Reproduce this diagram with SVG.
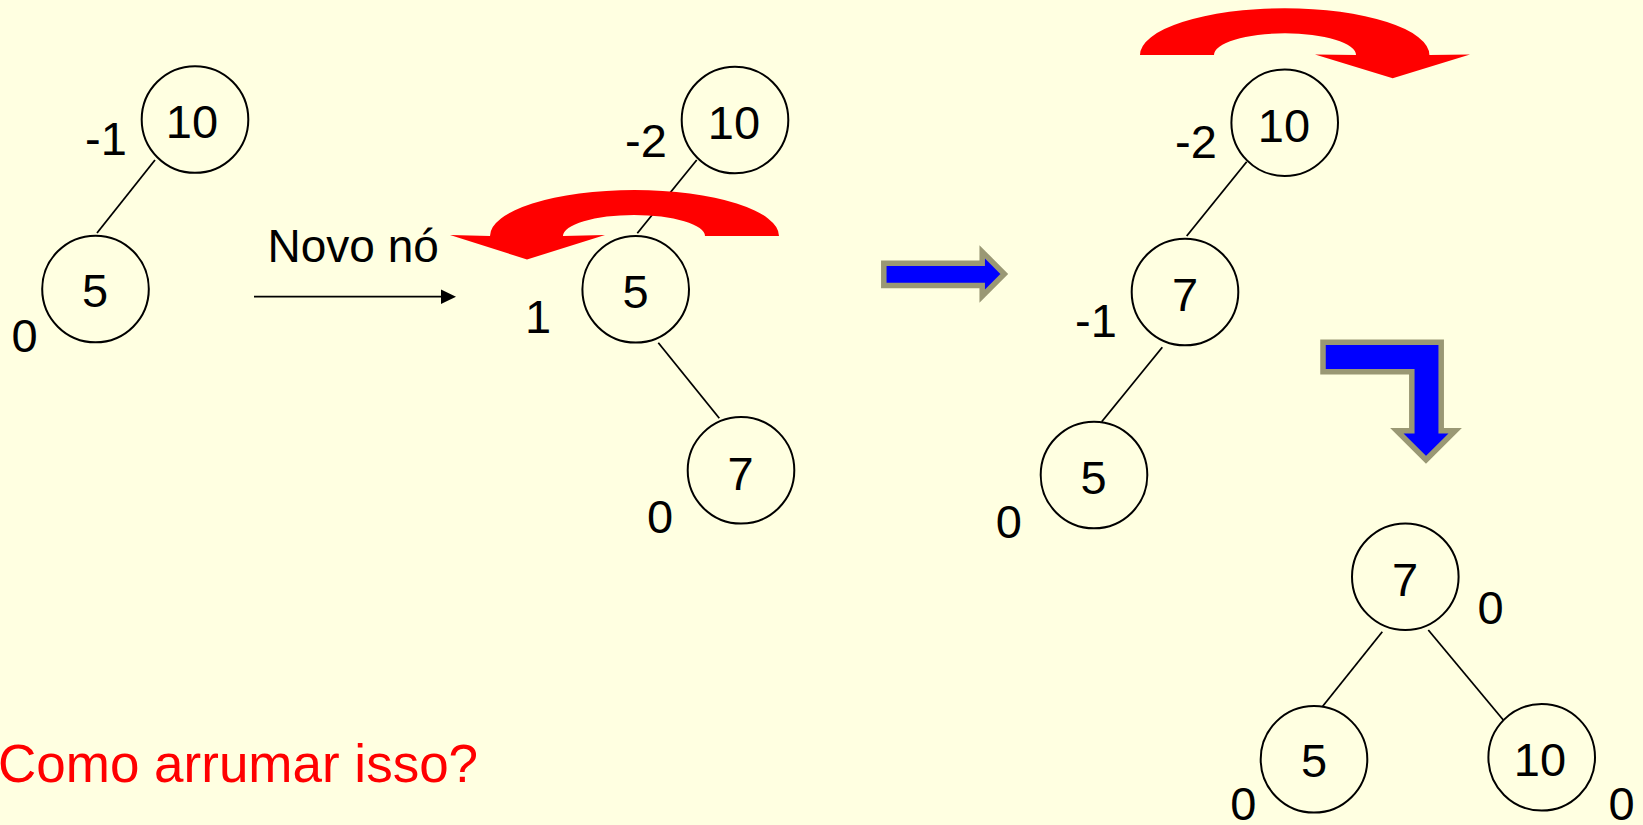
<svg xmlns="http://www.w3.org/2000/svg" width="1643" height="825" viewBox="0 0 1643 825">
<style>
.n{fill:none;stroke:#000;stroke-width:2}
.t{font-family:"Liberation Sans",Arial,sans-serif;font-size:47px;fill:#000}
.m{text-anchor:middle}
.e{stroke:#000;stroke-width:1.8;fill:none}
.rot{fill:#FF0000}
.blue{fill:#0000FF;stroke:#9A9874;stroke-width:5.5;stroke-linejoin:miter}
</style>
<rect width="1643" height="825" fill="#FFFFE1"/>
<g id="connectors">
<line class="e" x1="155" y1="160" x2="97" y2="233"/>
<line class="e" x1="696.7" y1="160" x2="637.3" y2="233.3"/>
<line class="e" x1="658.3" y1="342.7" x2="719.3" y2="418.3"/>
<line class="e" x1="1246.7" y1="161.7" x2="1186.7" y2="236"/>
<line class="e" x1="1162.3" y1="347.3" x2="1101.7" y2="421.7"/>
<line class="e" x1="1382.3" y1="631.7" x2="1322.3" y2="706.7"/>
<line class="e" x1="1428.3" y1="630" x2="1503.3" y2="720"/>
<line class="e" x1="254" y1="296.7" x2="442" y2="296.7"/>
<polygon points="441,289.5 456,296.7 441,304" fill="#000"/>
</g>
<g id="t1-n10"><circle class="n" cx="195" cy="119.5" r="53.3"/><text class="t m" x="192" y="138">10</text><text class="t" x="85" y="155">-1</text></g>
<g id="t1-n5"><circle class="n" cx="95.5" cy="289" r="53.3"/><text class="t m" x="95" y="307">5</text><text class="t m" x="24.5" y="352">0</text></g>
<g id="label-novo"><text class="t" x="267.5" y="262" style="font-size:46px">Novo nó</text></g>
<g id="t2-n10"><circle class="n" cx="735" cy="120" r="53.3"/><text class="t m" x="734" y="139">10</text><text class="t" x="625" y="157">-2</text></g>
<g id="t2-n5"><circle class="n" cx="635.7" cy="289.3" r="53.3"/><text class="t m" x="635.5" y="308.3">5</text><text class="t m" x="538" y="332.7">1</text></g>
<g id="t2-n7"><circle class="n" cx="741" cy="470.3" r="53.3"/><text class="t m" x="740.5" y="490">7</text><text class="t m" x="660" y="533">0</text></g>
<g id="rot1"><path class="rot" d="M779,236 A144.5,46 0 0 0 490,236 L450,235 L527,259.5 L605,235 L563,236 A71,21 0 0 1 705,236 Z"/></g>
<g id="arrow-right"><path class="blue" d="M883.8,263.3 L982.2,263.3 L982.2,251.8 L1004.3,274 L982.2,296.2 L982.2,285.5 L883.8,285.5 Z"/></g>
<g id="rot2"><path class="rot" d="M1140,55 A144.7,46.7 0 0 1 1429.4,55 L1470,54.5 L1392.7,78.3 L1315,54.5 L1356,55 A71,21.7 0 0 0 1214,55 Z"/></g>
<g id="t3-n10"><circle class="n" cx="1284.7" cy="122.7" r="53.3"/><text class="t m" x="1284" y="141.7">10</text><text class="t" x="1175" y="158.3">-2</text></g>
<g id="t3-n7"><circle class="n" cx="1185" cy="292" r="53.3"/><text class="t m" x="1185" y="310.7">7</text><text class="t" x="1075" y="336.7">-1</text></g>
<g id="t3-n5"><circle class="n" cx="1094" cy="475" r="53.3"/><text class="t m" x="1093.5" y="494">5</text><text class="t m" x="1008.7" y="537.5">0</text></g>
<g id="arrow-bent"><path class="blue" d="M1323,342.2 L1441.2,342.2 L1441.2,430.8 L1455.2,430.8 L1426,459.8 L1396.8,430.8 L1411.8,430.8 L1411.8,371.8 L1323,371.8 Z"/></g>
<g id="t4-n7"><circle class="n" cx="1405.3" cy="576.7" r="53.3"/><text class="t m" x="1405" y="595.7">7</text><text class="t m" x="1490.5" y="624">0</text></g>
<g id="t4-n5"><circle class="n" cx="1314" cy="759.3" r="53.3"/><text class="t m" x="1314" y="777.3">5</text><text class="t m" x="1243.3" y="820">0</text></g>
<g id="t4-n10"><circle class="n" cx="1541.7" cy="757.3" r="53.3"/><text class="t m" x="1540" y="776">10</text><text class="t m" x="1621.5" y="820">0</text></g>
<g id="question"><text x="-2" y="781.7" style="font-family:'Liberation Sans',Arial,sans-serif;font-size:53px;fill:#FF0000">Como arrumar isso?</text></g>
</svg>
